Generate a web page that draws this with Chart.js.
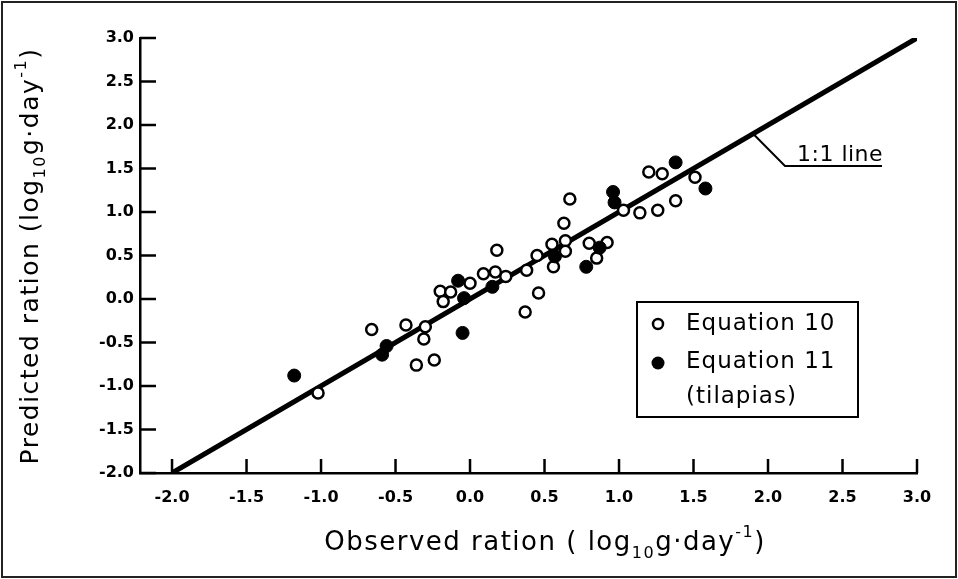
<!DOCTYPE html>
<html>
<head>
<meta charset="utf-8">
<script src="https://cdn.jsdelivr.net/npm/chart.js@4.4.0/dist/chart.umd.min.js"></script>
<style>
  html, body { margin: 0; background: #fff; }
  #wrap { width: 958px; height: 579px; position: relative; }
</style>
</head>
<body>
<div id="wrap"><canvas id="chart"></canvas></div>
<script>
// observed vs predicted ration (log10 g/day)
// Equation 10 (open circles)
const eq10Observed  = [-1.02, -0.66, -0.43, -0.30, -0.31, -0.36, -0.24, -0.20, -0.18, -0.13, 0.00, 0.09, 0.17, 0.24, 0.18,
                       0.38, 0.45, 0.46, 0.37, 0.55, 0.64, 0.64, 0.56, 0.63, 0.67, 0.80, 0.92, 0.85, 1.03, 1.14, 1.26,
                       1.38, 1.20, 1.29, 1.51];
const eq10Predicted = [-1.08, -0.35, -0.30, -0.32, -0.46, -0.76, -0.70, 0.09, -0.03, 0.08, 0.18, 0.29, 0.31, 0.26, 0.56,
                       0.33, 0.50, 0.07, -0.15, 0.63, 0.67, 0.55, 0.37, 0.87, 1.15, 0.64, 0.65, 0.47, 1.02, 0.99, 1.02,
                       1.13, 1.46, 1.44, 1.40];
// Equation 11, tilapias (filled circles)
const eq11Observed  = [-1.18, -0.59, -0.56, -0.05, -0.08, -0.04, 0.15, 0.57, 0.78, 0.87, 0.96, 0.97, 1.38, 1.58];
const eq11Predicted = [-0.88, -0.64, -0.54, -0.39, 0.21, 0.01, 0.14, 0.49, 0.37, 0.59, 1.23, 1.11, 1.57, 1.27];
// 1:1 line ends
const oneToOne = [-2, 3];
const tickValues = [-2.0, -1.5, -1.0, -0.5, 0.0, 0.5, 1.0, 1.5, 2.0, 2.5, 3.0];

const titleFont = "'DejaVu Sans', sans-serif";
const tickFont = { family: "'DejaVu Sans', sans-serif", size: 16, weight: "bold" };

function toPoints(xs, ys) {
  return xs.map((x, i) => ({ x: x, y: ys[i] }));
}

// text with subscript / superscript pieces, centred on (x, y)
function richText(ctx, parts, x, y, size, rotate) {
  ctx.save();
  ctx.translate(x, y);
  if (rotate) ctx.rotate(-Math.PI / 2);
  ctx.textBaseline = "middle";
  ctx.textAlign = "left";
  ctx.letterSpacing = "1.5px";
  const widths = parts.map(p => {
    ctx.font = (p[1] ? Math.round(size * 0.62) : size) + "px " + titleFont;
    return ctx.measureText(p[0]).width;
  });
  let cx = -widths.reduce((a, b) => a + b, 0) / 2;
  parts.forEach((p, i) => {
    ctx.font = (p[1] ? Math.round(size * 0.62) : size) + "px " + titleFont;
    let dy = 0;
    if (p[1] === 1) dy = size * 0.4;
    if (p[1] === -1) dy = -size * 0.38;
    ctx.fillText(p[0], cx, dy);
    cx += widths[i];
  });
  ctx.restore();
}

const decor = {
  id: "decor",
  afterDraw(chart) {
    const ctx = chart.ctx;
    const xs = chart.scales.x, ys = chart.scales.y;
    const area = chart.chartArea;
    ctx.save();
    ctx.strokeStyle = "#000";
    ctx.fillStyle = "#000";

    // ticks pointing inward
    ctx.lineWidth = 2.5;
    tickValues.forEach(v => {
      const py = ys.getPixelForValue(v);
      ctx.beginPath(); ctx.moveTo(area.left, py); ctx.lineTo(area.left + 16, py); ctx.stroke();
      const px = xs.getPixelForValue(v);
      ctx.beginPath(); ctx.moveTo(px, area.bottom); ctx.lineTo(px, area.bottom - 14); ctx.stroke();
    });

    // axis titles
    richText(ctx, [["Observed ration ( log", 0], ["10", 1], ["g·day", 0], ["-1", -1], [")", 0]], 545, 543, 26, false);
    richText(ctx, [["Predicted ration (log", 0], ["10", 1], ["g·day", 0], ["-1", -1], [")", 0]], 31, 256, 25, true);

    // legend box
    ctx.lineWidth = 2;
    ctx.strokeRect(637, 302, 221, 115);
    ctx.beginPath(); ctx.arc(658, 324, 5, 0, Math.PI * 2); ctx.lineWidth = 2.5; ctx.stroke();
    ctx.beginPath(); ctx.arc(658, 363, 6.5, 0, Math.PI * 2); ctx.fill();
    ctx.font = "23px " + titleFont;
    ctx.letterSpacing = "1px";
    ctx.textBaseline = "middle";
    ctx.textAlign = "left";
    ctx.fillText("Equation 10", 686, 324);
    ctx.fillText("Equation 11", 686, 362);
    ctx.fillText("(tilapias)", 686, 397);

    // 1:1 line label with leader
    ctx.lineWidth = 2;
    ctx.beginPath();
    ctx.moveTo(xs.getPixelForValue(1.9), ys.getPixelForValue(1.9));
    ctx.lineTo(xs.getPixelForValue(2.114), ys.getPixelForValue(1.529));
    ctx.lineTo(xs.getPixelForValue(2.765), ys.getPixelForValue(1.529));
    ctx.stroke();
    ctx.font = "22px " + titleFont;
    ctx.letterSpacing = "0.5px";
    ctx.textBaseline = "alphabetic";
    ctx.fillText("1:1 line", 797, 161);
    ctx.letterSpacing = "0px";

    // scan frame
    ctx.lineWidth = 2;
    ctx.strokeStyle = "#222";
    ctx.strokeRect(2, 2, 954, 575);
    ctx.restore();
  }
};

new Chart(document.getElementById("chart"), {
  type: "scatter",
  data: {
    datasets: [
      {
        label: "Equation 11 (tilapias)",
        data: toPoints(eq11Observed, eq11Predicted),
        pointRadius: 6.5,
        pointBackgroundColor: "#000",
        pointBorderColor: "#000",
        pointBorderWidth: 1,
        order: 1
      },
      {
        label: "Equation 10",
        data: toPoints(eq10Observed, eq10Predicted),
        pointRadius: 5.5,
        pointBackgroundColor: "#fff",
        pointBorderColor: "#000",
        pointBorderWidth: 2.5,
        order: 2
      },
      {
        type: "line",
        label: "1:1 line",
        data: toPoints(oneToOne, oneToOne),
        borderColor: "#000",
        borderWidth: 5,
        pointRadius: 0,
        fill: false,
        order: 3
      }
    ]
  },
  options: {
    responsive: true,
    maintainAspectRatio: false,
    animation: false,
    layout: { padding: { top: 38, right: 41, left: 0, bottom: 0 } },
    plugins: { legend: { display: false }, tooltip: { enabled: false } },
    scales: {
      x: {
        type: "linear",
        min: -2.215,
        max: 3,
        afterBuildTicks: s => { s.ticks = tickValues.map(v => ({ value: v })); },
        afterFit: s => { s.height = 106; },
        grid: { display: false, drawTicks: false },
        border: { display: true, color: "#000", width: 2.5 },
        ticks: { color: "#000", font: tickFont, padding: 15, maxRotation: 0, autoSkip: false,
                 callback: v => v.toFixed(1) }
      },
      y: {
        type: "linear",
        min: -2,
        max: 3,
        afterBuildTicks: s => { s.ticks = tickValues.map(v => ({ value: v })); },
        afterFit: s => { s.width = 140; },
        grid: { display: false, drawTicks: false },
        border: { display: true, color: "#000", width: 2.5 },
        ticks: { color: "#000", font: tickFont, padding: 6, autoSkip: false,
                 callback: v => v.toFixed(1) }
      }
    }
  },
  plugins: [decor]
});
</script>
</body>
</html>
